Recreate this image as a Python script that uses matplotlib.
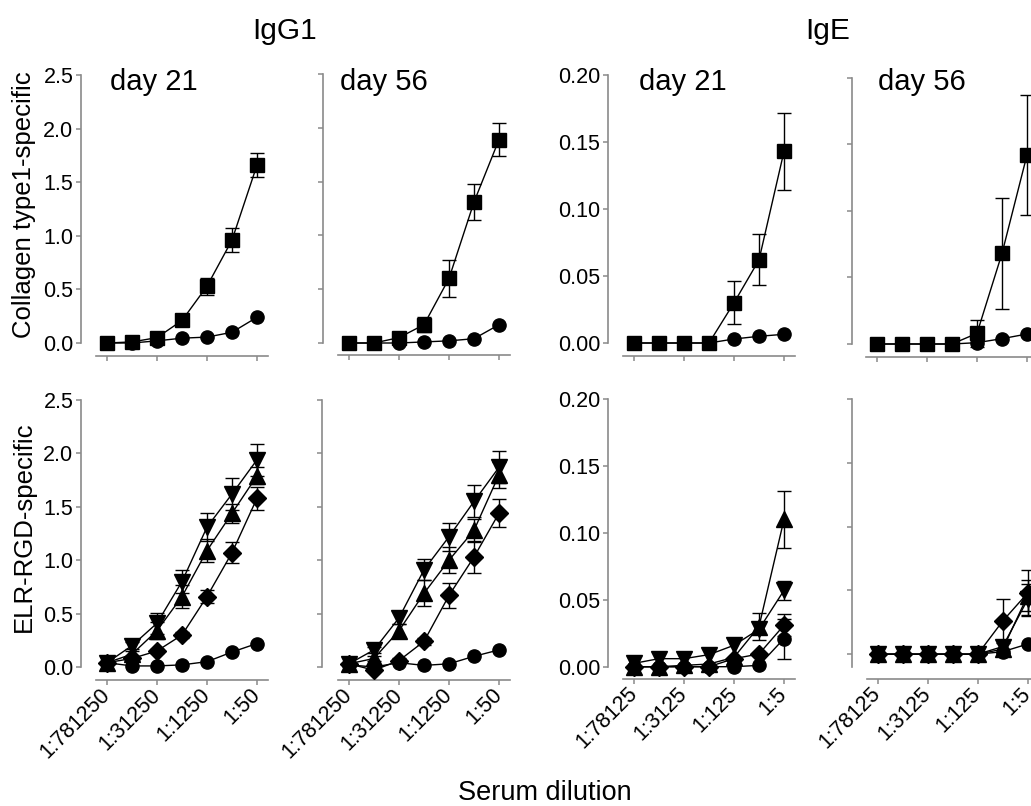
import numpy as np
import matplotlib
matplotlib.use("Agg")
import matplotlib.pyplot as plt

plt.rcParams["font.family"] = ["Liberation Sans", "DejaVu Sans"]

W, H = 1031, 806

# dilution steps (5-fold), tick labels on every other step
x_pos = np.arange(7)
igg_ticks = ["1:781250", "1:31250", "1:1250", "1:50"]
ige_ticks = ["1:78125", "1:3125", "1:125", "1:5"]

# ---- top row: collagen type1-specific ----
# IgG1 day 21
c_igg21_sq = [0.00, 0.01, 0.05, 0.21, 0.53, 0.96, 1.66]
c_igg21_sq_err = [0.0, 0.0, 0.0, 0.02, 0.08, 0.11, 0.11]
c_igg21_ci = [0.00, 0.00, 0.02, 0.045, 0.055, 0.10, 0.24]
# IgG1 day 56
c_igg56_sq = [0.00, 0.00, 0.05, 0.17, 0.60, 1.31, 1.89]
c_igg56_sq_err = [0.0, 0.0, 0.0, 0.07, 0.17, 0.17, 0.15]
c_igg56_ci = [0.00, 0.00, 0.00, 0.01, 0.02, 0.04, 0.17]
# IgE day 21
c_ige21_sq = [0.000, 0.000, 0.000, 0.000, 0.030, 0.062, 0.143]
c_ige21_sq_err = [0.0, 0.0, 0.0, 0.0, 0.016, 0.019, 0.029]
c_ige21_ci = [0.000, 0.000, 0.000, 0.000, 0.003, 0.005, 0.0065]
# IgE day 56
c_ige56_sq = [0.000, 0.000, 0.000, 0.000, 0.008, 0.068, 0.142]
c_ige56_sq_err = [0.0, 0.0, 0.0, 0.0, 0.010, 0.042, 0.045]
c_ige56_ci = [0.000, 0.000, 0.000, 0.000, 0.001, 0.004, 0.0075]

# ---- bottom row: ELR-RGD-specific ----
# IgG1 day 21
e_igg21_dn = [0.04, 0.20, 0.41, 0.80, 1.31, 1.62, 1.94]
e_igg21_dn_err = [0.0, 0.03, 0.10, 0.11, 0.13, 0.15, 0.15]
e_igg21_up = [0.04, 0.12, 0.34, 0.66, 1.09, 1.44, 1.79]
e_igg21_up_err = [0.0, 0.03, 0.08, 0.11, 0.11, 0.09, 0.08]
e_igg21_di = [0.04, 0.08, 0.15, 0.30, 0.66, 1.07, 1.58]
e_igg21_di_err = [0.0, 0.0, 0.02, 0.03, 0.06, 0.10, 0.11]
e_igg21_ci = [0.04, 0.01, 0.01, 0.02, 0.05, 0.14, 0.22]
# IgG1 day 56
e_igg56_dn = [0.03, 0.16, 0.46, 0.91, 1.22, 1.55, 1.87]
e_igg56_dn_err = [0.0, 0.03, 0.06, 0.10, 0.13, 0.15, 0.15]
e_igg56_up = [0.03, 0.08, 0.34, 0.69, 1.00, 1.28, 1.80]
e_igg56_up_err = [0.0, 0.02, 0.06, 0.12, 0.12, 0.11, 0.12]
e_igg56_di = [0.03, -0.03, 0.06, 0.24, 0.67, 1.03, 1.44]
e_igg56_di_err = [0.0, 0.0, 0.02, 0.03, 0.12, 0.15, 0.13]
e_igg56_ci = [0.02, 0.00, 0.04, 0.015, 0.03, 0.10, 0.16]
# IgE day 21
e_ige21_dn = [0.0025, 0.006, 0.006, 0.009, 0.016, 0.028, 0.057]
e_ige21_dn_err = [0.0, 0.0, 0.0, 0.0, 0.0, 0.0, 0.007]
e_ige21_up = [0.000, 0.000, 0.001, 0.002, 0.007, 0.030, 0.110]
e_ige21_up_err = [0.0, 0.0, 0.0, 0.0, 0.0, 0.010, 0.021]
e_ige21_di = [0.000, 0.000, 0.000, 0.000, 0.006, 0.0095, 0.031]
e_ige21_di_err = [0.0, 0.0, 0.0, 0.0, 0.0, 0.0, 0.008]
e_ige21_ci = [0.000, 0.000, 0.000, 0.000, 0.000, 0.001, 0.021]
e_ige21_ci_err = [0.0, 0.0, 0.0, 0.0, 0.0, 0.0, 0.015]
# IgE day 56
e_ige56_dn = [0.000, 0.000, 0.000, 0.000, 0.000, 0.006, 0.043]
e_ige56_dn_err = [0.0, 0.0, 0.0, 0.0, 0.0, 0.005, 0.012]
e_ige56_up = [0.000, 0.000, 0.000, 0.000, 0.000, 0.004, 0.046]
e_ige56_up_err = [0.0, 0.0, 0.0, 0.0, 0.0, 0.0, 0.012]
e_ige56_di = [0.000, 0.000, 0.000, 0.000, 0.000, 0.026, 0.048]
e_ige56_di_err = [0.0, 0.0, 0.0, 0.0, 0.0, 0.017, 0.018]
e_ige56_ci = [0.000, 0.000, 0.000, 0.000, 0.000, 0.002, 0.008]

SPINE = "#8a8a8a"
MARKERS = {"ci": ("o", 9.5), "sq": ("s", 9.5), "up": ("^", 11.5), "dn": ("v", 11.5), "di": ("D", 9)}


def px_rect(left, top, right, bottom):
    return [left / W, 1 - bottom / H, (right - left) / W, (bottom - top) / H]


def make_axes(fig, x0, yspine, top, bottom, xspine, ylim, yticks, ylabels, xlabels):
    ax = fig.add_axes(px_rect(x0 - 11, top, x0 + 161, bottom))
    ax.set_xlim(-0.44, 6.44)
    ax.set_ylim(*ylim)
    for s in ["top", "right"]:
        ax.spines[s].set_visible(False)
    ax.spines["left"].set_position(("outward", (x0 - 11 - yspine) * 0.72))
    ax.spines["bottom"].set_position(("outward", (xspine - bottom) * 0.72))
    for s in ["left", "bottom"]:
        ax.spines[s].set_color(SPINE)
        ax.spines[s].set_linewidth(1.2)
    ax.set_yticks(yticks)
    if ylabels is None:
        ax.set_yticklabels([])
    else:
        ax.set_yticklabels(ylabels)
    ax.set_xticks([0, 2, 4, 6])
    ax.set_xticklabels(xlabels, rotation=45, ha="right", va="center",
                       rotation_mode="anchor")
    ax.tick_params(axis="both", colors=SPINE, labelcolor="black", labelsize=15.5,
                   length=3.5, width=1.1, pad=2)
    ax.tick_params(axis="x", pad=5)
    ax.patch.set_visible(False)
    return ax


def draw(ax, series):
    for kind, y, err in series:
        m, ms = MARKERS[kind]
        y = np.asarray(y, dtype=float)
        if err is not None:
            err = np.asarray(err, dtype=float)
            mask = err > 0
            eb = ax.errorbar(x_pos[mask], y[mask], yerr=err[mask], fmt="none",
                             ecolor="black", elinewidth=1.0, capsize=5, capthick=1.0,
                             zorder=2)
            for art in eb.get_children():
                art.set_clip_on(False)
        ax.plot(x_pos, y, color="black", lw=1.0, marker=m, ms=ms,
                mfc="black", mec="black", clip_on=False, zorder=3)


fig = plt.figure(figsize=(W / 100, H / 100), dpi=100)

g_ticks = [0, 0.5, 1.0, 1.5, 2.0, 2.5]
g_labels = ["0.0", "0.5", "1.0", "1.5", "2.0", "2.5"]
e_ticks = [0, 0.05, 0.10, 0.15, 0.20]
e_labels = ["0.00", "0.05", "0.10", "0.15", "0.20"]

# top row
ax1 = make_axes(fig, 107, 81, 75, 343, 356, (0, 2.5), g_ticks, g_labels, [""] * 4)
draw(ax1, [("ci", c_igg21_ci, None), ("sq", c_igg21_sq, c_igg21_sq_err)])
ax2 = make_axes(fig, 349, 323, 74, 343, 355, (0, 2.5), g_ticks, None, [""] * 4)
draw(ax2, [("ci", c_igg56_ci, None), ("sq", c_igg56_sq, c_igg56_sq_err)])
ax3 = make_axes(fig, 634, 608, 75, 343, 356, (0, 0.20), e_ticks, e_labels, [""] * 4)
draw(ax3, [("ci", c_ige21_ci, None), ("sq", c_ige21_sq, c_ige21_sq_err)])
ax4 = make_axes(fig, 877, 852, 77.7, 344, 357, (0, 0.20), e_ticks, None, [""] * 4)
draw(ax4, [("ci", c_ige56_ci, None), ("sq", c_ige56_sq, c_ige56_sq_err)])

# bottom row
ax5 = make_axes(fig, 107, 81, 400, 667, 680, (0, 2.5), g_ticks, g_labels, igg_ticks)
draw(ax5, [("ci", e_igg21_ci, None), ("di", e_igg21_di, e_igg21_di_err),
           ("up", e_igg21_up, e_igg21_up_err), ("dn", e_igg21_dn, e_igg21_dn_err)])
ax6 = make_axes(fig, 349, 322, 400, 667, 680, (0, 2.5), g_ticks, None, igg_ticks)
draw(ax6, [("ci", e_igg56_ci, None), ("di", e_igg56_di, e_igg56_di_err),
           ("up", e_igg56_up, e_igg56_up_err), ("dn", e_igg56_dn, e_igg56_dn_err)])
ax7 = make_axes(fig, 634, 608, 399, 666.7, 679, (0, 0.20), e_ticks, e_labels, ige_ticks)
draw(ax7, [("ci", e_ige21_ci, e_ige21_ci_err), ("di", e_ige21_di, e_ige21_di_err),
           ("up", e_ige21_up, e_ige21_up_err), ("dn", e_ige21_dn, e_ige21_dn_err)])
ax8 = make_axes(fig, 877.7, 852, 399, 667, 679, (-0.01, 0.20), e_ticks, None, ige_ticks)
draw(ax8, [("ci", e_ige56_ci, None), ("di", e_ige56_di, e_ige56_di_err),
           ("up", e_ige56_up, e_ige56_up_err), ("dn", e_ige56_dn, e_ige56_dn_err)])

# texts
def ftext(x, y, s, **kw):
    fig.text(x / W, 1 - y / H, s, **kw)

ftext(285, 39.3, "IgG1", fontsize=21.5, ha="center", va="baseline")
ftext(828, 39.3, "IgE", fontsize=21.5, ha="center", va="baseline")
for x, s in [(110, "day 21"), (340, "day 56"), (639, "day 21"), (878, "day 56")]:
    ftext(x, 89.5, s, fontsize=21, ha="left", va="baseline")
ftext(24, 205, "Collagen type1-specific", fontsize=18.5, rotation=90,
      ha="center", va="center")
ftext(24, 527, "ELR-RGD-specific", fontsize=18.5, rotation=90,
      ha="center", va="center")
ftext(545, 800, "Serum dilution", fontsize=19.5, ha="center", va="baseline")

fig.savefig("out.png", dpi=100)
